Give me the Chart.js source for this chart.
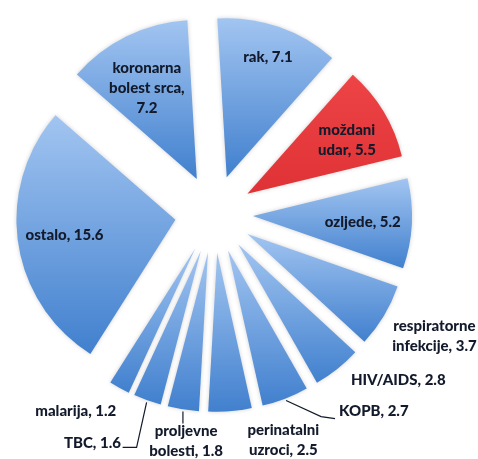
<!DOCTYPE html>
<html>
<head>
<meta charset="utf-8">
<script src="https://cdn.jsdelivr.net/npm/chart.js@4.4.1/dist/chart.umd.min.js"></script>
<style>
  html, body { margin: 0; padding: 0; background: #fff; }
  #wrap { width: 478px; height: 459px; }
</style>
</head>
<body>
<div id="wrap"><canvas id="pie"></canvas></div>
<script>
// --- data ---
const causes = ['rak', 'moždani\nudar', 'ozljede', 'respiratorne\ninfekcije', 'HIV/AIDS', 'KOPB',
  'perinatalni\nuzroci', 'proljevne\nbolesti', 'TBC', 'malarija', 'ostalo', 'koronarna\nbolest srca']
const deaths = [7.1, 5.5, 5.2, 3.7, 2.8, 2.7, 2.5, 1.8, 1.6, 1.2, 15.6, 7.2]
const highlight = [false, true, false, false, false, false, false, false, false, false, false, false]

// --- label placement (distance from pie centre, clockwise degrees from top) ---
const labelDist = [166, 152, 149, 252, 248, 254, 237, 229, 259, 241, 151, 143]
const labelAngle = [19, 61, 93, 119, 132, 141, 163, 187, 208, 215, 262, 332]
const valueOwnLine = [false, false, false, false, false, false, false, false, false, false, false, true]
// leader lines: offsets from the slice's outer edge point
const leaders = {
  5: [[35, 16], [49, 18]],
  7: [[0, 3], [0, 12]],
  8: [[-10, 45], [-24, 45]],
}

const blueTop = '#a2c5f1'
const blueBottom = '#4180ce'
const redTop = '#ee4446'
const redBottom = '#df3236'
const textColor = '#121a2b'
const font = '900 15px Lato, "Open Sans", sans-serif'

// exploded slices: move each wedge out along its mid angle by `offset`
Chart.ArcElement.prototype.draw = function (ctx) {
  const { x, y, startAngle, endAngle, outerRadius, options } = this
  const mid = (startAngle + endAngle) / 2
  const d = options.offset || 0
  const cx = x + Math.cos(mid) * d
  const cy = y + Math.sin(mid) * d
  ctx.save()
  ctx.shadowColor = 'rgba(0,0,0,0.18)'
  ctx.shadowBlur = 4
  ctx.beginPath()
  ctx.moveTo(cx, cy)
  ctx.arc(cx, cy, outerRadius, startAngle, endAngle)
  ctx.closePath()
  ctx.fillStyle = this.sliceFill || options.backgroundColor
  ctx.fill()
  ctx.restore()
}

// vertical gradient per slice, over the slice's own box
const sliceGradients = {
  id: 'sliceGradients',
  beforeDatasetsDraw(chart) {
    const ctx = chart.ctx
    chart.getDatasetMeta(0).data.forEach((arc, i) => {
      const { x, y, startAngle, endAngle, outerRadius, options } = arc
      const mid = (startAngle + endAngle) / 2
      const cx = x + Math.cos(mid) * (options.offset || 0)
      const cy = y + Math.sin(mid) * (options.offset || 0)
      let top = cy
      let bottom = cy
      for (let k = 0; k <= 24; k++) {
        const a = startAngle + ((endAngle - startAngle) * k) / 24
        const py = cy + Math.sin(a) * outerRadius
        top = Math.min(top, py)
        bottom = Math.max(bottom, py)
      }
      const g = ctx.createLinearGradient(0, top, 0, bottom)
      g.addColorStop(0, highlight[i] ? redTop : blueTop)
      g.addColorStop(1, highlight[i] ? redBottom : blueBottom)
      arc.sliceFill = g
    })
  },
}

const sliceLabels = {
  id: 'sliceLabels',
  afterDatasetsDraw(chart) {
    const ctx = chart.ctx
    const arcs = chart.getDatasetMeta(0).data
    ctx.save()
    ctx.font = font
    ctx.fillStyle = textColor
    ctx.strokeStyle = textColor
    ctx.lineWidth = 1.2
    ctx.textAlign = 'center'
    ctx.textBaseline = 'middle'
    arcs.forEach((arc, i) => {
      const a = ((labelAngle[i] - 90) * Math.PI) / 180
      const lx = arc.x + Math.cos(a) * labelDist[i]
      const ly = arc.y + Math.sin(a) * labelDist[i]
      const text = causes[i] + ',' + (valueOwnLine[i] ? '\n' : ' ') + deaths[i].toFixed(1)
      const lines = text.split('\n')
      const lh = 20
      lines.forEach((t, j) => {
        ctx.fillText(t, lx, ly + (j - (lines.length - 1) / 2) * lh)
      })
      if (leaders[i]) {
        const mid = (arc.startAngle + arc.endAngle) / 2
        const r = arc.outerRadius + (arc.options.offset || 0) + 2
        const px = arc.x + Math.cos(mid) * r
        const py = arc.y + Math.sin(mid) * r
        ctx.beginPath()
        ctx.moveTo(px, py)
        leaders[i].forEach(([dx, dy]) => ctx.lineTo(px + dx, py + dy))
        ctx.stroke()
      }
    })
    ctx.restore()
  },
}

new Chart(document.getElementById('pie'), {
  type: 'pie',
  data: {
    labels: causes,
    datasets: [
      {
        data: deaths,
        backgroundColor: highlight.map((h) => (h ? redBottom : blueBottom)),
        borderWidth: 0,
        offset: 39,
      },
    ],
  },
  plugins: [sliceGradients, sliceLabels],
  options: {
    responsive: true,
    maintainAspectRatio: false,
    animation: false,
    events: [],
    rotation: -3.4,
    radius: 159,
    layout: { padding: { left: 0, top: 0, right: 50, bottom: 31 } },
    plugins: { legend: { display: false }, tooltip: { enabled: false } },
  },
})
</script>
</body>
</html>
